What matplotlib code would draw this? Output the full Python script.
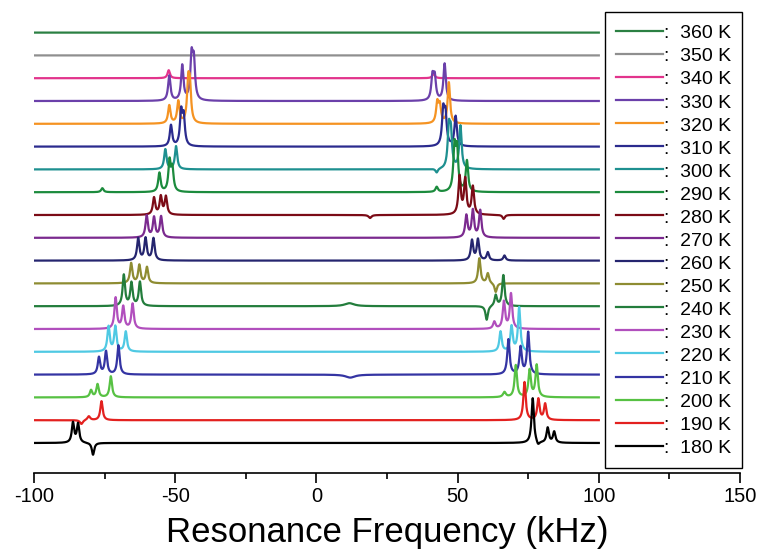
import numpy as np
import matplotlib.pyplot as plt

plt.rcParams['font.family'] = ['Liberation Sans', 'DejaVu Sans']
plt.rcParams['axes.unicode_minus'] = False

# temperatures, bottom trace first
temps = [180, 190, 200, 210, 220, 230, 240, 250, 260, 270,
         280, 290, 300, 310, 320, 330, 340, 350, 360]

colors = ['#000000', '#e3211f', '#57c143', '#3434a3', '#4fc9e3', '#b14fbd',
          '#237d3c', '#8e8c32', '#25256f', '#7b2a8f', '#7b0b16', '#1c8b3d',
          '#1e9090', '#2b2b8e', '#f59322', '#6b40aa', '#e2348c', '#8f8f8f',
          '#2b8043']

# peaks: (frequency kHz, height px, half width kHz)
p180 = [(-86.2, 20, 0.5), (-84.4, 19, 0.5), (-79.1, -12, 0.5),
        (76.6, 45, 0.5), (78.5, -4, 0.6), (81.9, 15, 0.5), (84.2, 11, 0.5)]
p190 = [(-83.2, -4, 0.6), (-80.6, 4, 0.6), (-76.1, 19, 0.5),
        (73.7, 38, 0.5), (78.6, 21, 0.5), (81.0, 16, 0.5)]
p200 = [(-79.8, 7, 0.5), (-77.5, 13, 0.5), (-72.8, 21, 0.5),
        (66.6, 5, 0.6), (70.6, 32, 0.5), (75.5, 27, 0.5), (78.0, 32, 0.5)]
p210 = [(-77.0, 17, 0.5), (-74.5, 23, 0.5), (-70.1, 29, 0.5), (12.0, -3, 2.0),
        (68.0, 35, 0.5), (72.3, 27, 0.5), (75.0, 42, 0.5)]
p220 = [(-73.6, 25, 0.5), (-71.2, 25, 0.5), (-67.5, 20, 0.5),
        (65.2, 20, 0.5), (69.1, 25, 0.5), (71.8, 44, 0.5)]
p230 = [(-71.1, 31, 0.5), (-68.4, 22, 0.5), (-65.1, 25, 0.5),
        (63.0, 7, 0.5), (66.4, 27, 0.5), (68.9, 35, 0.5)]
p240 = [(-68.2, 31, 0.5), (-65.5, 23, 0.5), (-62.5, 24, 0.5), (11.7, 3, 2.0),
        (60.3, -14, 0.5), (63.5, 11, 0.5), (66.2, 31, 0.5)]
p250 = [(-65.6, 20, 0.5), (-62.7, 18, 0.5), (-60.0, 16, 0.5),
        (57.7, 25, 0.5), (60.7, 10, 0.5), (63.5, -9, 0.5)]
p260 = [(-63.1, 22, 0.5), (-60.5, 22, 0.5), (-57.7, 22, 0.5),
        (55.1, 20, 0.5), (57.2, 21, 0.5), (60.7, 8, 0.5), (66.6, 5, 0.5)]
p270 = [(-60.1, 22, 0.5), (-57.5, 20, 0.5), (-55.0, 21, 0.5),
        (53.1, 22, 0.5), (55.4, 27, 0.5), (58.0, 27, 0.5)]
p280 = [(-57.5, 17, 0.5), (-55.1, 18, 0.5), (-53.3, 18, 0.5), (19.0, -3, 0.6),
        (50.7, 38, 0.5), (52.7, 35, 0.5), (55.4, 28, 0.5), (66.3, -4, 0.5)]
p290 = [(-75.8, 4, 0.5), (-55.6, 19, 0.5), (-52.0, 30, 0.5), (-51.0, 22, 0.5),
        (42.6, 5, 0.5), (48.9, 43, 0.5), (49.8, 40, 0.5), (53.3, 31, 0.5)]
p300 = [(-53.5, 20, 0.5), (-49.7, 23, 0.5), (42.6, -4, 0.5),
        (46.9, 38, 0.5), (47.6, 33, 0.5), (51.0, 43, 0.5)]
p310 = [(-51.5, 21, 0.5), (-47.9, 33, 0.5), (-47.0, 28, 0.5),
        (44.9, 34, 0.5), (45.7, 30, 0.5), (49.3, 30, 0.5)]
p320 = [(-52.1, 18, 0.5), (-48.9, 22, 0.5), (-45.4, 37, 0.5), (-44.8, 33, 0.5),
        (42.8, 20, 0.5), (43.7, 17, 0.5), (46.9, 41, 0.5)]
p330 = [(-52.1, 25, 0.5), (-47.5, 35, 0.5), (-44.2, 42, 0.5), (-43.4, 37, 0.5),
        (41.1, 23, 0.5), (41.9, 22, 0.5), (45.4, 37, 0.5)]
p340 = [(-52.3, 8, 0.5), (41.5, 5, 0.5)]
p350 = []
p360 = []

peaks = [p180, p190, p200, p210, p220, p230, p240, p250, p260, p270,
         p280, p290, p300, p310, p320, p330, p340, p350, p360]

freq = np.linspace(-100, 100, 4001)
spacing = 22.8   # vertical offset between traces (px units)
base0 = 30

fig = plt.figure(figsize=(7.58, 5.51), dpi=100)
ax = fig.add_axes([34 / 758, 78 / 551, 706 / 758, 473 / 551])

n = len(temps)
for i in range(n - 1, -1, -1):
    y = np.full_like(freq, base0 + spacing * i)
    for pos, h, w in peaks[i]:
        y += h * w ** 2 / ((freq - pos) ** 2 + w ** 2)
    ax.plot(freq, y, color=colors[i], lw=1.6, zorder=10 + n - i,
            label=':  %d K' % temps[i])

ax.set_xlim(-100, 150)
ax.set_ylim(0, 473)
ax.set_xticks(range(-100, 151, 50))
ax.set_xticks(range(-75, 150, 50), minor=True)
ax.set_yticks([])
for s in ['top', 'left', 'right']:
    ax.spines[s].set_visible(False)
ax.spines['bottom'].set_linewidth(1.2)
ax.tick_params(axis='x', which='major', length=7, width=1.2, labelsize=14.5, pad=3)
ax.tick_params(axis='x', which='minor', length=4, width=1.2)
ax.set_xlabel('Resonance Frequency (kHz)', fontsize=25, labelpad=7)

leg = ax.legend(loc='upper left', bbox_to_anchor=(0.809, 0.974), borderaxespad=0,
                fontsize=14, handlelength=2.45, handletextpad=0.05,
                handleheight=1.0, labelspacing=0.19, borderpad=0.55,
                fancybox=False, framealpha=1, edgecolor='black')
leg.get_frame().set_linewidth(1.0)
leg.set_zorder(50)

fig.savefig('out.png', dpi=100)
